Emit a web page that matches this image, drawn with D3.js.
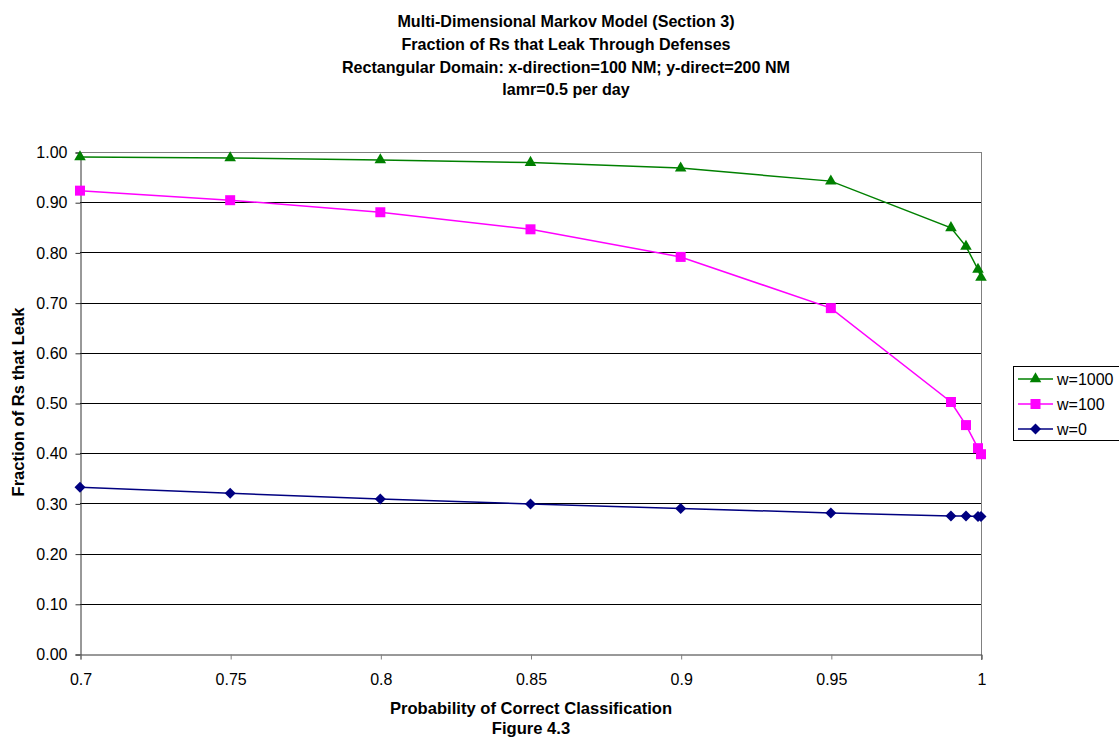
<!DOCTYPE html>
<html>
<head>
<meta charset="utf-8">
<script src="https://cdn.jsdelivr.net/npm/d3@7"></script>
<style>
  html, body { margin: 0; padding: 0; background: #fff; }
  svg { display: block; font-family: "Liberation Sans", Arial, sans-serif; }
</style>
</head>
<body>
<svg id="chart" width="1119" height="742"></svg>
<script>
const titleLines = [
  "Multi-Dimensional Markov Model (Section 3)",
  "Fraction of Rs that Leak Through Defenses",
  "Rectangular Domain: x-direction=100 NM; y-direct=200 NM",
  "lamr=0.5 per day"
];
const xLabel = "Probability of Correct Classification";
const figLabel = "Figure 4.3";
const yLabel = "Fraction of Rs that Leak";

const xValues = [0.7, 0.75, 0.8, 0.85, 0.9, 0.95, 0.99, 0.995, 0.999, 1.0];
const w1000 = [0.990, 0.988, 0.984, 0.979, 0.968, 0.942, 0.849, 0.812, 0.766, 0.750];
const w100  = [0.923, 0.904, 0.880, 0.846, 0.791, 0.689, 0.502, 0.456, 0.410, 0.398];
const w0    = [0.332, 0.320, 0.309, 0.299, 0.290, 0.281, 0.275, 0.275, 0.274, 0.274];

const xTicks = [0.7, 0.75, 0.8, 0.85, 0.9, 0.95, 1];
const xTickLabels = ["0.7", "0.75", "0.8", "0.85", "0.9", "0.95", "1"];
const yTicks = [0, 0.1, 0.2, 0.3, 0.4, 0.5, 0.6, 0.7, 0.8, 0.9, 1.0];

const seriesNames = ["w=1000", "w=100", "w=0"];
const seriesColors = ["#008000", "#ff00ff", "#000080"];
const seriesMarkers = ["triangle", "square", "diamond"];

const series = [
  { name: seriesNames[0], values: w1000, color: seriesColors[0], marker: seriesMarkers[0] },
  { name: seriesNames[1], values: w100,  color: seriesColors[1], marker: seriesMarkers[1] },
  { name: seriesNames[2], values: w0,    color: seriesColors[2], marker: seriesMarkers[2] }
];

const svg = d3.select("#chart");
const pL = 80, pR = 981, pT = 152, pB = 654;
const FONT = '"Liberation Sans", Arial, sans-serif';

const x = d3.scaleLinear().domain([0.7, 1]).range([pL, pR]);
const y = d3.scaleLinear().domain([0, 1]).range([pB, pT]);

// Title
const title = svg.append("text")
  .attr("text-anchor", "middle")
  .attr("font-weight", "bold")
  .attr("font-size", 16.1)
  .attr("fill", "#000");
titleLines.forEach((t, i) => {
  title.append("tspan").attr("x", 566).attr("y", 27 + i * 22.8).text(t);
});

// Grid lines
svg.append("g")
  .selectAll("line")
  .data(yTicks.filter(v => v > 0 && v < 1))
  .join("line")
  .attr("x1", pL).attr("x2", pR)
  .attr("y1", d => Math.round(y(d)) + 0.5)
  .attr("y2", d => Math.round(y(d)) + 0.5)
  .attr("stroke", "#000").attr("stroke-width", 1);

// Plot border (top & right gray)
svg.append("line").attr("x1", pL).attr("x2", pR + 0.5)
  .attr("y1", pT + 0.5).attr("y2", pT + 0.5).attr("stroke", "#808080");
svg.append("line").attr("x1", pR + 0.5).attr("x2", pR + 0.5)
  .attr("y1", pT).attr("y2", pB + 6).attr("stroke", "#808080");

// Y axis
const yAxis = d3.axisLeft(y).tickValues(yTicks).tickSize(5).tickPadding(8)
  .tickFormat(d3.format(".2f"));
const gy = svg.append("g").attr("transform", `translate(${pL + 0.5},0.5)`).call(yAxis);
gy.select(".domain").attr("stroke", "#333");
gy.selectAll(".tick line").attr("stroke", "#333");
gy.selectAll(".tick text").attr("font-size", 16).attr("fill", "#000")
  .attr("font-family", FONT);

// X axis
const xAxis = d3.axisBottom(x).tickValues(xTicks).tickSize(5).tickPadding(14)
  .tickFormat((d, i) => xTickLabels[i]);
const gx = svg.append("g").attr("transform", `translate(0.5,${pB + 0.5})`).call(xAxis);
gx.select(".domain").attr("stroke", "#333");
gx.selectAll(".tick line").attr("stroke", "#808080");
gx.selectAll(".tick text").attr("font-size", 16).attr("fill", "#000")
  .attr("font-family", FONT);

// Axis titles
svg.append("text").attr("x", 531).attr("y", 714)
  .attr("text-anchor", "middle").attr("font-weight", "bold").attr("font-size", 16.6)
  .text(xLabel);
svg.append("text").attr("x", 531).attr("y", 734)
  .attr("text-anchor", "middle").attr("font-weight", "bold").attr("font-size", 16.6)
  .text(figLabel);
svg.append("text")
  .attr("transform", "translate(24,402) rotate(-90)")
  .attr("text-anchor", "middle").attr("font-weight", "bold").attr("font-size", 16.6)
  .text(yLabel);

// Markers
function markerPath(m) {
  if (m === "triangle") return d3.symbol().type(d3.symbolTriangle).size(58)();
  if (m === "square") return "M-5,-5H5V5H-5Z";
  return "M0,-5.5L5.5,0L0,5.5L-5.5,0Z";
}

const line = d3.line().x((d, i) => x(xValues[i])).y(d => y(d));

// draw in order: w=0, w=100, w=1000 (on top)
series.slice().reverse().forEach(s => {
  const g = svg.append("g");
  g.append("path").datum(s.values)
    .attr("d", line).attr("fill", "none")
    .attr("stroke", s.color).attr("stroke-width", 1.5);
  g.selectAll("path.m").data(s.values).join("path").attr("class", "m")
    .attr("transform", (d, i) => `translate(${x(xValues[i])},${y(d)})`)
    .attr("d", markerPath(s.marker))
    .attr("fill", s.color);
});

// Legend
const lg = svg.append("g");
lg.append("rect").attr("x", 1013.5).attr("y", 366.5).attr("width", 110).attr("height", 74)
  .attr("fill", "#fff").attr("stroke", "#000");
series.forEach((s, i) => {
  const cy = 379 + i * 25;
  lg.append("line").attr("x1", 1018).attr("x2", 1053).attr("y1", cy).attr("y2", cy)
    .attr("stroke", s.color).attr("stroke-width", 1.5);
  lg.append("path").attr("transform", `translate(1035.5,${cy})`)
    .attr("d", markerPath(s.marker)).attr("fill", s.color);
  lg.append("text").attr("x", 1057).attr("y", cy + 6)
    .attr("font-size", 16).attr("fill", "#000").text(s.name);
});
</script>
</body>
</html>
